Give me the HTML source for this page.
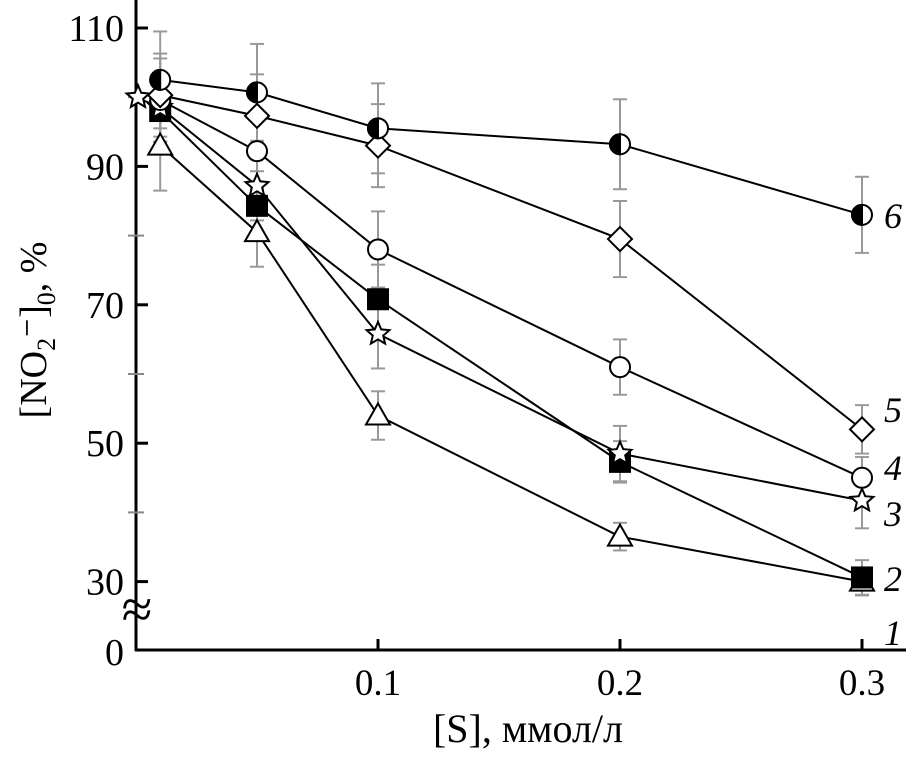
<!DOCTYPE html>
<html><head><meta charset="utf-8"><style>
body{margin:0;background:#fff}
svg text{font-family:"Liberation Serif",serif;fill:#000}
</style></head><body>
<svg id="c" width="911" height="753" viewBox="0 0 911 753"></svg>
<script>
const xs=[0.01,0.05,0.1,0.2,0.3];
const s6=[102.5,100.7,95.5,93.2,83];
const s5=[100.3,97.3,93,79.5,52];
const s4=[99.6,92.2,78,61,45];
const s3=[98.5,87.2,65.8,48.5,41.7];
const s2=[98,84.3,70.8,47.3,30.6];
const s1=[93,80.5,54,36.5,30];
const e6=[7,7,6.5,6.5,5.5];
const e5=[6,6,6,5.5,3.5];
const e4=[6,5.5,5.5,4,3];
const e3=[5,5,5,4,4];
const e2=[5,5,5,3,2.5];
const e1=[6.5,5,3.5,2,2];
const yTicks=[30,50,70,90,110];
const xTicks=[0.1,0.2,0.3];
const NS="http://www.w3.org/2000/svg";
const svg=document.getElementById('c');
const X=v=>136+v*2420;
const Y=v=>28+(110-v)*6.92;
function el(t,a,p){const e=document.createElementNS(NS,t);for(const k in a)e.setAttribute(k,a[k]);(p||svg).appendChild(e);return e;}
let a=el('line',{x1:136,y1:0,x2:136,y2:651,stroke:'#000','stroke-width':3});

a=el('line',{x1:135,y1:650,x2:906,y2:650,stroke:'#000','stroke-width':3});

yTicks.forEach(v=>{
 const t=el('line',{x1:136,y1:Y(v),x2:148,y2:Y(v),stroke:'#000','stroke-width':3});
 
 const m=el('line',{x1:128,y1:Y(v+10),x2:144,y2:Y(v+10),stroke:'#888','stroke-width':2});
 
 const l=el('text',{x:124,y:Y(v)+13,'text-anchor':'end','font-size':38});l.textContent=v;
 
});
let z=el('text',{x:124,y:665,'text-anchor':'end','font-size':38});z.textContent='0';

let br=el('text',{x:137,y:628,'text-anchor':'middle','font-size':56});br.textContent='≈';

xTicks.forEach(v=>{
 const t=el('line',{x1:X(v),y1:650,x2:X(v),y2:639,stroke:'#000','stroke-width':3});
 
 const l=el('text',{x:X(v),y:695,'text-anchor':'middle','font-size':37});l.textContent=v;
 
});
let xt=el('text',{x:528,y:742,'text-anchor':'middle','font-size':40});xt.textContent='[S], ммол/л';

let yt=el('text',{transform:'translate(46,330) rotate(-90)','text-anchor':'middle','font-size':38});
yt.innerHTML='[NO<tspan font-size="26" dy="9">2</tspan><tspan dy="-9">⁻]</tspan><tspan font-size="26" dy="9">0</tspan><tspan dy="-9">, %</tspan>';

const series=[[s1,e1,'tri','1',633],[s2,e2,'sq','2',579],[s3,e3,'star','3',514],[s4,e4,'circ','4',468],[s5,e5,'dia','5',410],[s6,e6,'half','6',216]];
series.forEach(([s,e])=>{s.forEach((v,i)=>{
 const g=el('g',{stroke:'#999','stroke-width':2});
 
 el('line',{x1:X(xs[i]),y1:Y(v+e[i]),x2:X(xs[i]),y2:Y(v-e[i])},g);
 el('line',{x1:X(xs[i])-7,y1:Y(v+e[i]),x2:X(xs[i])+7,y2:Y(v+e[i])},g);
 el('line',{x1:X(xs[i])-7,y1:Y(v-e[i]),x2:X(xs[i])+7,y2:Y(v-e[i])},g);
});});
series.forEach(([s],k)=>{
 let pts=s.map((v,i)=>X(xs[i])+','+Y(v));
 if(k===2)pts.unshift(X(0)+','+Y(100));
 const p=el('polyline',{points:pts.join(' '),fill:'none',stroke:'#000','stroke-width':2});
 
});
function marker(type,x,y){
 const g=el('g',{stroke:'#000','stroke-width':2,fill:'#fff'});
 
 if(type==='tri')el('polygon',{points:`${x},${y-12} ${x-12},${y+9} ${x+12},${y+9}`},g);
 if(type==='sq')el('rect',{x:x-10,y:y-10,width:20,height:20,fill:'#000'},g);
 if(type==='circ')el('circle',{cx:x,cy:y,r:10},g);
 if(type==='dia')el('polygon',{points:`${x},${y-12} ${x+12},${y} ${x},${y+12} ${x-12},${y}`},g);
 if(type==='half'){el('circle',{cx:x,cy:y,r:10},g);el('path',{d:`M${x},${y-10} A10,10 0 0 0 ${x},${y+10} Z`,fill:'#000'},g);}
 if(type==='star'){let p=[];for(let i=0;i<10;i++){const r=i%2?5.5:12,a=-Math.PI/2+i*Math.PI/5;p.push((x+r*Math.cos(a)).toFixed(1)+','+(y+r*Math.sin(a)).toFixed(1));}el('polygon',{points:p.join(' ')},g);}
}
marker('star',X(0)+2,Y(100));
series.forEach(([s,,t,lab,ly])=>{
 s.forEach((v,i)=>marker(t,X(xs[i]),Y(v)));
 const l=el('text',{x:893,y:ly+12,'text-anchor':'middle','font-size':36,'font-style':'italic'});l.textContent=lab;
 
});
</script>
</body></html>
